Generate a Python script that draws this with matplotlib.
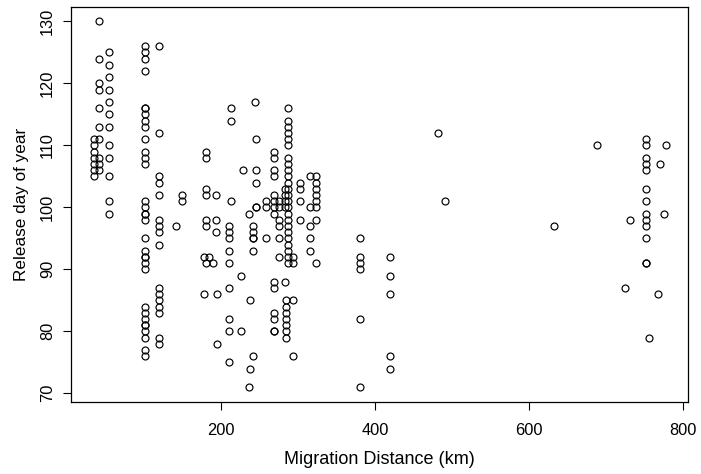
import matplotlib
matplotlib.use('Agg')
import matplotlib.pyplot as plt
import numpy as np

# migration distance (km) of each column of points, and the release days in it
km_groups = [35, 42, 54, 101, 119, 141, 150, 180, 178, 184, 190, 193, 195,
             211, 213, 226, 229, 236, 238, 241, 244, 246, 259, 269, 275, 283,
             287, 285, 294, 302, 316, 324, 380, 419, 482, 491, 633, 688, 725,
             731, 752, 756, 767, 770, 775, 778]
day_groups = [
    [111, 110, 109, 108, 107, 106, 105],
    [130, 124, 120, 119, 116, 113, 111, 108, 107, 106],
    [125, 123, 121, 119, 117, 115, 113, 110, 108, 105, 101, 99],
    [126, 125, 124, 122, 116, 116, 115, 114, 113, 111, 109, 108, 107, 101,
     100, 99, 99, 98, 95, 93, 92, 92, 91, 90, 84, 83, 82, 81, 81, 80, 79,
     77, 76],
    [126, 112, 105, 104, 102, 98, 97, 96, 94, 87, 86, 85, 84, 83, 79, 78],
    [97],
    [102, 101],
    [109, 108, 103, 102, 98, 97, 91],
    [92, 86],
    [92],
    [91],
    [102, 98, 96],
    [86, 78],
    [97, 96, 95, 93, 91, 87, 82, 80, 75],
    [116, 114, 101],
    [89, 80],
    [106],
    [99, 71],
    [85, 74],
    [97, 96, 95, 95, 93, 76],
    [117],
    [111, 106, 104, 100, 100],
    [101, 100, 95],
    [109, 108, 106, 105, 102, 101, 100, 99, 88, 87, 83, 82, 80, 80],
    [101, 100, 98, 97, 95, 92],
    [103, 102, 101, 100, 88],
    [116, 114, 113, 112, 111, 110, 108, 107, 106, 105, 104, 103, 102, 101,
     100, 99, 98, 97, 96, 95, 94, 93, 92, 91],
    [85, 84, 83, 82, 81, 80, 79],
    [92, 91, 85, 76],
    [104, 103, 101, 98],
    [105, 100, 97, 95, 93],
    [105, 104, 103, 102, 101, 100, 98, 91],
    [95, 92, 91, 90, 82, 71],
    [92, 89, 86, 76, 74],
    [112],
    [101],
    [97],
    [110],
    [87],
    [98],
    [111, 110, 108, 107, 106, 103, 101, 99, 98, 97, 95, 91, 91],
    [79],
    [86],
    [107],
    [99],
    [110],
]
x_ticks = [200, 400, 600, 800]
y_ticks = [70, 80, 90, 100, 110, 120, 130]

dist = np.concatenate([[k] * len(d) for k, d in zip(km_groups, day_groups)])
day = np.concatenate(day_groups)

plt.rcParams['font.family'] = ['Liberation Sans', 'DejaVu Sans']

fig = plt.figure(figsize=(7.01, 4.74), dpi=100)
ax = fig.add_axes([0.101, 0.1525, 0.880, 0.833])

ax.plot(dist, day, linestyle='none', marker='o', markersize=5.0,
        markerfacecolor='none', markeredgecolor='black', markeredgewidth=0.85)

ax.set_xlim(5, 806)
ax.set_ylim(68.64, 132.36)
ax.set_xticks(x_ticks)
ax.set_yticks(y_ticks)
ax.tick_params(direction='out', length=5.5, width=0.8, labelsize=11.8, colors='black')
ax.tick_params(axis='x', pad=10)
ax.tick_params(axis='y', pad=6)
for lab in ax.get_yticklabels():
    lab.set_rotation(90)
    lab.set_va('center')
for s in ax.spines.values():
    s.set_linewidth(0.9)

ax.set_xlabel('Migration Distance (km)', fontsize=13, labelpad=9)
ax.set_ylabel('Release day of year', fontsize=12.3, labelpad=8)

fig.savefig('out.png', dpi=100)
